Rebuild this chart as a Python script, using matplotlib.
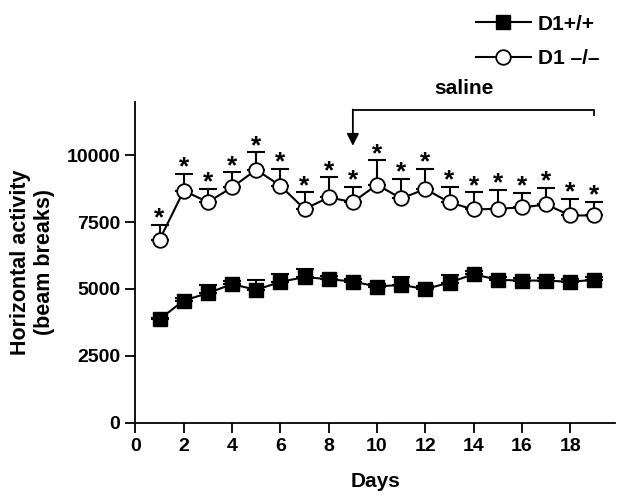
import matplotlib
matplotlib.use("Agg")
import matplotlib.pyplot as plt
import numpy as np

plt.rcParams['font.family'] = ['Liberation Sans', 'DejaVu Sans']
plt.rcParams['font.weight'] = 'bold'

days = list(range(1, 20))
wt_mean = [3870, 4566, 4843, 5180, 4966, 5266, 5441, 5366, 5277, 5090,
           5153, 4993, 5240, 5553, 5340, 5314, 5314, 5266, 5340]
wt_err = [60, 90, 310, 120, 350, 300, 300, 110, 100, 100,
          310, 100, 290, 100, 100, 100, 100, 100, 100]
ko_mean = [6838, 8671, 8248, 8795, 9457, 8858, 7986, 8421, 8248, 8896,
           8383, 8735, 8234, 7971, 7998, 8047, 8159, 7747, 7747]
ko_err = [561, 625, 498, 561, 648, 626, 622, 748, 562, 909,
          738, 749, 587, 637, 699, 538, 625, 624, 501]
xticks = [0, 2, 4, 6, 8, 10, 12, 14, 16, 18]
yticks = [0, 2500, 5000, 7500, 10000]
labels = ['D1+/+', 'D1 \u2013/\u2013']

fig = plt.figure(figsize=(6.24, 5.0), dpi=100)
ax = fig.add_axes([0.217, 0.1546, 0.7686, 0.642])

ax.errorbar(days, wt_mean, yerr=[np.zeros(len(wt_err)), wt_err], fmt='none',
            ecolor='black', elinewidth=1.5, capsize=6.5, capthick=1.5, zorder=2)
l1, = ax.plot(days, wt_mean, color='black', lw=1.5, marker='s', markersize=10,
              markerfacecolor='black', markeredgecolor='black', zorder=3, label=labels[0])
ax.errorbar(days, ko_mean, yerr=[np.zeros(len(ko_err)), ko_err], fmt='none',
            ecolor='black', elinewidth=1.5, capsize=6.5, capthick=1.5, zorder=2)
l2, = ax.plot(days, ko_mean, color='black', lw=1.5, marker='o', markersize=10.5,
              markerfacecolor='white', markeredgecolor='black', markeredgewidth=1.3,
              zorder=3, label=labels[1])

for d, m, e in zip(days, ko_mean, ko_err):
    ax.annotate('*', (d, m + e), xytext=(0, -4), textcoords='offset points',
                ha='center', va='bottom', fontsize=19, fontweight='bold')

ax.set_xlim(0, 19.85)
ax.set_ylim(0, 12000)
ax.set_xticks(xticks)
ax.set_yticks(yticks)
ax.tick_params(axis='both', direction='out', length=7, width=1.3, labelsize=14, pad=4)
for s in ['top', 'right']:
    ax.spines[s].set_visible(False)
for s in ['left', 'bottom']:
    ax.spines[s].set_linewidth(1.3)

ax.set_xlabel('Days', fontsize=15, fontweight='bold', labelpad=12)
ax.set_ylabel('Horizontal activity\n(beam breaks)', fontsize=15.5, fontweight='bold', labelpad=8)

# saline bracket
ax.plot([9, 19, 19], [11700, 11700, 11500], color='black', lw=1.3, clip_on=False)
ax.annotate('', xy=(9, 10350), xytext=(9, 11710),
            arrowprops=dict(arrowstyle='-|>', color='black', lw=1.3,
                            mutation_scale=18, shrinkA=0, shrinkB=0),
            annotation_clip=False)
ax.text(13.6, 12500, 'saline', ha='center', va='center', fontsize=15, fontweight='bold')

fig.legend(handles=[l1, l2], loc='upper left', bbox_to_anchor=(0.74, 1.0),
           frameon=False, fontsize=15, handlelength=2.6, labelspacing=0.75,
           handletextpad=0.35, borderaxespad=0.3)

fig.savefig('out.png', dpi=100)
